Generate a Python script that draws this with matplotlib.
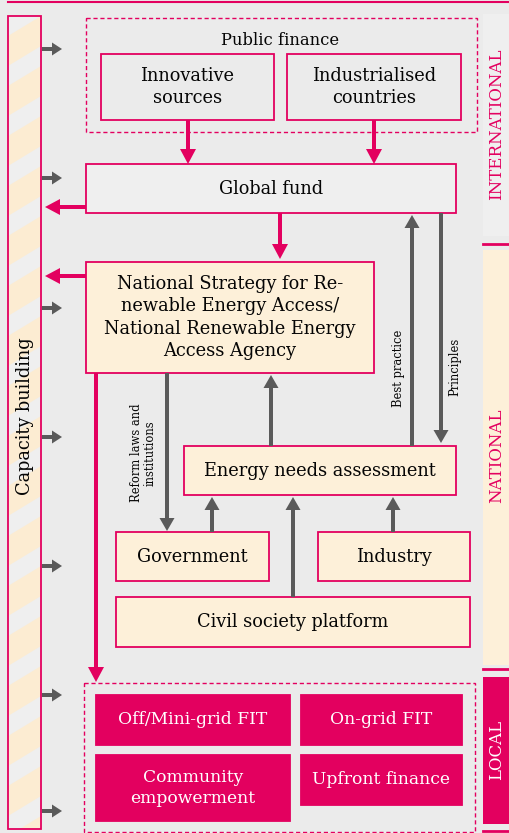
import matplotlib.pyplot as plt
from matplotlib.patches import Rectangle, Polygon, FancyArrow

PINK = '#e3005f'
CREAM = '#fdf0d9'
GREY = '#5a5a5a'
BG = '#ebebeb'
LIGHT = '#efefef'
INK = '#050505'

# texts of the diagram
levels = ['INTERNATIONAL', 'NATIONAL', 'LOCAL']
finance_title = 'Public finance'
finance_sources = ['Innovative\nsources', 'Industrialised\ncountries']
fund_label = 'Global fund'
strategy_label = ('National Strategy for Re-\nnewable Energy Access/\n'
                  'National Renewable Energy\nAccess Agency')
needs_label = 'Energy needs assessment'
national_actors = ['Government', 'Industry', 'Civil society platform']
local_tools = ['Off/Mini-grid FIT', 'On-grid FIT', 'Community\nempowerment',
               'Upfront finance']
flow_labels = ['Best practice', 'Principles', 'Reform laws and\ninstitutions']
side_label = 'Capacity building'

# layout in pixels: (x0, y0, x1, y1)
boxes = {
    'innov': (101, 54, 274, 120),
    'indus': (287, 54, 461, 120),
    'fund': (86, 164, 456, 213),
    'strategy': (86, 262, 374, 373),
    'needs': (184, 446, 456, 495),
    'gov': (116, 532, 269, 581),
    'industry': (318, 532, 470, 581),
    'civil': (116, 597, 470, 647),
    'offgrid': (96, 695, 290, 745),
    'ongrid': (301, 695, 462, 745),
    'community': (96, 755, 290, 821),
    'upfront': (301, 755, 462, 805),
}

fig = plt.figure(figsize=(5.1, 8.33), dpi=100, facecolor=BG)
ax = fig.add_axes([0, 0, 1, 1])
ax.set_xlim(0, 510)
ax.set_ylim(833, 0)
ax.axis('off')
plt.rcParams['font.family'] = ['DejaVu Serif']


def box(key, text, fill, tcolor=INK, size=12.8, ls=1.3):
    x0, y0, x1, y1 = boxes[key]
    ax.add_patch(Rectangle((x0, y0), x1 - x0, y1 - y0, facecolor=fill,
                           edgecolor=PINK, lw=1.3))
    ax.text((x0 + x1) / 2, (y0 + y1) / 2, text, ha='center', va='center',
            color=tcolor, fontsize=size, linespacing=ls)


def arrow(x0, y0, x1, y1, color, shaft=4, hw=15, hl=14):
    ax.add_patch(FancyArrow(x0, y0, x1 - x0, y1 - y0, width=shaft,
                            head_width=hw, head_length=hl,
                            length_includes_head=True, color=color, lw=0))


# top line
ax.plot([8, 510], [2, 2], color=PINK, lw=1.5)

# right-hand level panels
ax.add_patch(Rectangle((483, 14), 27, 222, facecolor=LIGHT, lw=0))
ax.plot([483, 510], [244, 244], color=PINK, lw=2)
ax.add_patch(Rectangle((483, 250), 27, 415, facecolor=CREAM, lw=0))
ax.plot([483, 510], [669, 669], color=PINK, lw=2)
ax.add_patch(Rectangle((483, 677), 27, 147, facecolor=PINK, lw=0))
ax.plot([483, 510], [831, 831], color=PINK, lw=2)
ax.text(497, 124, levels[0], rotation=90, ha='center', va='center',
        color=PINK, fontsize=12)
ax.text(497, 456, levels[1], rotation=90, ha='center', va='center',
        color=PINK, fontsize=12)
ax.text(497, 750, levels[2], rotation=90, ha='center', va='center',
        color='white', fontsize=12)

# capacity building bar with diagonal stripes
bar = Rectangle((8, 16), 33, 813, facecolor=LIGHT, edgecolor='none')
ax.add_patch(bar)
for k in range(-1, 18):
    yk = 16 + k * 50
    stripe = Polygon([(8, yk + 20), (41, yk), (41, yk + 30), (8, yk + 50)],
                     closed=True, facecolor='#fcecd2', lw=0)
    ax.add_patch(stripe)
    stripe.set_clip_path(bar)
ax.add_patch(Rectangle((8, 16), 33, 813, facecolor='none', edgecolor=PINK,
                       lw=1.3))
ax.text(25, 416, side_label, rotation=90, ha='center', va='center',
        fontsize=12.8, color=INK)
for y in [49, 178, 308, 437, 566, 695, 811]:
    arrow(42, y, 62, y, GREY, shaft=4, hw=13, hl=10)

# public finance group
ax.add_patch(Rectangle((86, 18), 391, 114, facecolor='none', edgecolor=PINK,
                       lw=1, ls=(0, (3, 2))))
ax.text(280, 40, finance_title, ha='center', va='center', fontsize=11.8,
        color=INK)
box('innov', finance_sources[0], BG)
box('indus', finance_sources[1], BG)
box('fund', fund_label, LIGHT)
box('strategy', strategy_label, CREAM, ls=1.3)
box('needs', needs_label, CREAM)
box('gov', national_actors[0], CREAM)
box('industry', national_actors[1], CREAM)
box('civil', national_actors[2], CREAM)

# local group
ax.add_patch(Rectangle((84, 683), 391, 149, facecolor='none', edgecolor=PINK,
                       lw=1, ls=(0, (3, 2))))
box('offgrid', local_tools[0], PINK, 'white', 12.3)
box('ongrid', local_tools[1], PINK, 'white', 12.3)
box('community', local_tools[2], PINK, 'white', 12.3, 1.3)
box('upfront', local_tools[3], PINK, 'white', 12.3)

# pink flows
arrow(188, 120, 188, 164, PINK, shaft=4, hw=16, hl=15)
arrow(374, 120, 374, 164, PINK, shaft=4, hw=16, hl=15)
arrow(280, 213, 280, 259, PINK, shaft=4, hw=16, hl=15)
arrow(86, 207, 45, 207, PINK, shaft=4, hw=16, hl=15)
arrow(86, 276, 45, 276, PINK, shaft=4, hw=16, hl=15)
arrow(96, 373, 96, 682, PINK, shaft=4, hw=16, hl=15)

# grey flows
arrow(412, 446, 412, 215, GREY, shaft=4, hw=15, hl=13)
ax.text(399, 368, flow_labels[0], rotation=90, ha='center', va='center',
        fontsize=8.3, color=INK)
arrow(441, 213, 441, 443, GREY, shaft=4, hw=15, hl=13)
ax.text(455, 367, flow_labels[1], rotation=90, ha='center', va='center',
        fontsize=8.3, color=INK)
arrow(167, 373, 167, 531, GREY, shaft=4, hw=15, hl=13)
ax.text(143, 453, flow_labels[2], rotation=90, ha='center', va='center',
        fontsize=8.3, color=INK, linespacing=1.05)
arrow(271, 446, 271, 375, GREY, shaft=4, hw=15, hl=13)
arrow(212, 532, 212, 497, GREY, shaft=4, hw=15, hl=13)
arrow(293, 597, 293, 497, GREY, shaft=4, hw=15, hl=13)
arrow(393, 532, 393, 497, GREY, shaft=4, hw=15, hl=13)

fig.savefig('out.png', dpi=100, facecolor=BG)
